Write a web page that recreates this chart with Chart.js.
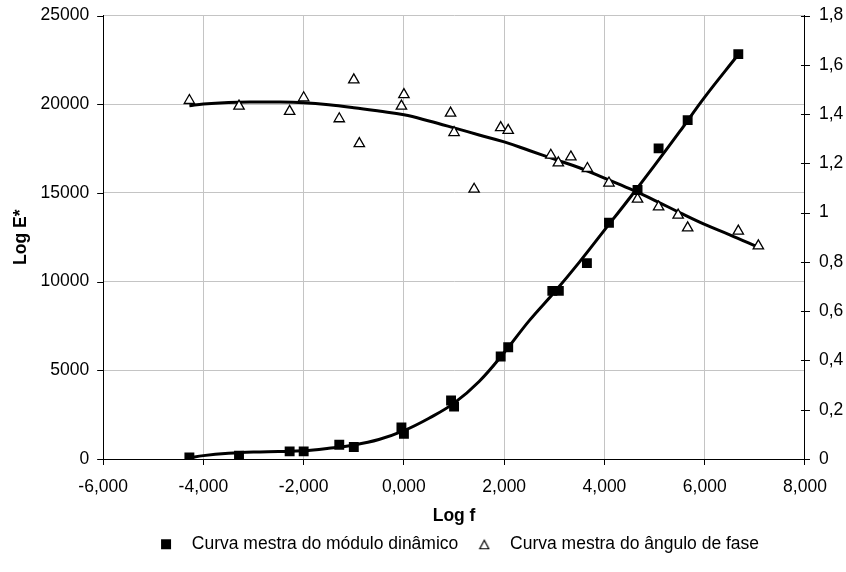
<!DOCTYPE html>
<html>
<head>
<meta charset="utf-8">
<title>Curva mestra</title>
<script src="https://cdn.jsdelivr.net/npm/chart.js@4.4.1/dist/chart.umd.min.js"></script>
<style>
  html, body { margin: 0; padding: 0; background: #fff; }
  canvas { display: block; }
</style>
</head>
<body>
<canvas id="chart" width="846" height="572"></canvas>
<script>
// pontos medidos - modulo dinamico (eixo esquerdo)
const logFModulo = [-4.28, -3.29, -2.28, -2.00, -1.29, -1.00, -0.05, 0.00, 0.94, 1.00, 1.93, 2.08, 2.96, 3.09, 3.65, 4.09, 4.66, 5.08, 5.66, 6.67];
const moduloE = [90, 190, 430, 430, 800, 680, 1780, 1420, 3300, 2960, 5780, 6300, 9480, 9480, 11040, 13320, 15160, 17510, 19100, 22820];

// pontos medidos - angulo de fase (eixo direito)
const logFFase = [-4.28, -3.29, -2.28, -2.00, -1.29, -1.00, -0.89, -0.05, 0.00, 0.93, 1.00, 1.40, 1.93, 2.08, 2.93, 3.08, 3.33, 3.66, 4.09, 4.66, 5.08, 5.47, 5.66, 6.67, 7.07];
const anguloFase = [1.455, 1.432, 1.411, 1.466, 1.381, 1.539, 1.280, 1.432, 1.479, 1.404, 1.325, 1.095, 1.345, 1.334, 1.233, 1.202, 1.226, 1.179, 1.120, 1.055, 1.023, 0.990, 0.938, 0.925, 0.865];

// linhas de tendencia
const tendLogFModulo = [-4.28, -4.0, -3.5, -3.0, -2.5, -2.0, -1.5, -1.0, -0.5, 0, 0.5, 1.0, 1.5, 2.0, 2.5, 3.0, 3.5, 4.0, 4.5, 5.0, 5.5, 6.0, 6.67];
const tendModulo = [60, 190, 320, 390, 420, 460, 600, 790, 1100, 1600, 2300, 3150, 4370, 6000, 7800, 9400, 11100, 12900, 14700, 16550, 18450, 20400, 22800];
const tendLogFFase = [-4.28, -4.0, -3.5, -3.0, -2.5, -2.0, -1.5, -1.0, -0.5, 0, 0.5, 1.0, 1.5, 2.0, 2.5, 3.0, 3.5, 4.0, 4.5, 5.0, 5.5, 6.0, 6.5, 7.07];
const tendFase = [1.434, 1.441, 1.447, 1.449, 1.449, 1.446, 1.438, 1.426, 1.412, 1.397, 1.372, 1.344, 1.315, 1.287, 1.252, 1.217, 1.182, 1.140, 1.097, 1.050, 1.000, 0.952, 0.910, 0.859];

const xTicks = [-6, 8, 2];
const yTicks = [0, 25000, 5000];
const y1Ticks = [0, 1.8, 0.2];

function pts(xs, ys){
    return xs.map((x, i) => ({x: x, y: ys[i]}));
}
function virgula(v, d){
    return v.toFixed(d).replace('.', ',');
}

// marcadores da legenda (desenhados em canvas pequenos)
function marcaLegenda(tipo){
    const c = document.createElement('canvas');
    c.width = 12; c.height = 12;
    const g = c.getContext('2d');
    if(tipo == 'rect'){
        g.fillStyle = '#000';
        g.fillRect(1, 1, 10, 10);
    } else {
        g.strokeStyle = '#000';
        g.lineWidth = 1.2;
        g.beginPath();
        g.moveTo(6, 2); g.lineTo(10.5, 10.5); g.lineTo(1.5, 10.5); g.closePath();
        g.stroke();
    }
    return c;
}
const marcas = [marcaLegenda('rect'), marcaLegenda('triangle')];

// tracinhos dos eixos verticais (o da direita cruza o eixo, como no Excel)
const ticksVerticais = {
    id: 'ticksVerticais',
    afterDraw(chart){
        const ctx = chart.ctx;
        const esq = chart.scales.y, dir = chart.scales.y1;
        ctx.save();
        ctx.strokeStyle = '#000';
        ctx.lineWidth = 1;
        esq.ticks.forEach(t => {
            const y = Math.round(esq.getPixelForValue(t.value)) + 0.5;
            ctx.beginPath();
            ctx.moveTo(esq.right - 6, y);
            ctx.lineTo(esq.right, y);
            ctx.stroke();
        });
        dir.ticks.forEach(t => {
            const y = Math.round(dir.getPixelForValue(t.value)) + 0.5;
            ctx.beginPath();
            ctx.moveTo(dir.left - 4, y);
            ctx.lineTo(dir.left + 5, y);
            ctx.stroke();
        });
        ctx.restore();
    }
};

Chart.defaults.font.family = "'Liberation Sans', Arial, sans-serif";
Chart.defaults.font.size = 17.5;
Chart.defaults.color = '#000';

const grade = '#c4c4c4';
const semCor = 'rgba(0,0,0,0)';

new Chart(document.getElementById('chart'), {
    type: 'scatter',
    plugins: [ticksVerticais],
    data: {
        datasets: [{
            label: 'Curva mestra do módulo dinâmico',
            data: pts(logFModulo, moduloE),
            yAxisID: 'y',
            pointStyle: 'rect',
            pointRadius: 7,
            backgroundColor: '#000',
            borderColor: '#000',
            borderWidth: 0
        }, {
            label: 'Curva mestra do ângulo de fase',
            data: pts(logFFase, anguloFase),
            yAxisID: 'y1',
            pointStyle: 'triangle',
            pointRadius: 6,
            backgroundColor: '#fff',
            borderColor: '#000',
            borderWidth: 1.3
        }, {
            label: 'tend modulo',
            data: pts(tendLogFModulo, tendModulo),
            yAxisID: 'y',
            showLine: true,
            pointRadius: 0,
            borderColor: '#000',
            borderWidth: 3,
            tension: 0.4
        }, {
            label: 'tend fase',
            data: pts(tendLogFFase, tendFase),
            yAxisID: 'y1',
            showLine: true,
            pointRadius: 0,
            borderColor: '#000',
            borderWidth: 3,
            tension: 0.4
        }]
    },
    options: {
        responsive: false,
        animation: false,
        events: [],
        layout: { padding: { left: 5, right: -2.3, top: 1.5, bottom: 9 } },
        plugins: {
            tooltip: { enabled: false },
            legend: {
                position: 'bottom',
                fullSize: false,
                labels: {
                    usePointStyle: true,
                    pointStyleWidth: 34,
                    boxHeight: 12,
                    padding: 9,
                    color: '#000',
                    font: { size: 17.5 },
                    filter: item => item.datasetIndex < 2,
                    generateLabels: chart => {
                        const itens = Chart.defaults.plugins.legend.labels.generateLabels(chart);
                        itens.forEach(it => {
                            if(it.datasetIndex < 2) it.pointStyle = marcas[it.datasetIndex];
                        });
                        return itens;
                    }
                }
            }
        },
        scales: {
            x: {
                type: 'linear',
                min: xTicks[0], max: xTicks[1],
                ticks: { stepSize: xTicks[2], padding: 12, callback: v => virgula(v, 3) },
                grid: { color: grade, tickColor: '#000', tickLength: 6 },
                border: { color: '#000', width: 1 },
                title: { display: true, text: 'Log f', font: { size: 17.5, weight: 'bold' }, padding: { top: -4.5, bottom: 0 } }
            },
            y: {
                position: 'left',
                min: yTicks[0], max: yTicks[1],
                ticks: { stepSize: yTicks[2], padding: 5, callback: v => String(v) },
                grid: { color: grade, tickColor: semCor, tickLength: 9 },
                border: { color: '#000', width: 1 },
                title: { display: true, text: 'Log E*', font: { size: 17.5, weight: 'bold' }, padding: { top: 5.5, bottom: 4 } }
            },
            y1: {
                position: 'right',
                min: y1Ticks[0], max: y1Ticks[1],
                ticks: { stepSize: y1Ticks[2], padding: 5, callback: v => {
                    const r = Math.round(v * 10) / 10;
                    return Number.isInteger(r) ? String(r) : virgula(r, 1);
                } },
                grid: { drawOnChartArea: false, tickColor: semCor, tickLength: 9 },
                border: { color: '#000', width: 1 }
            }
        }
    }
});
</script>
</body>
</html>
